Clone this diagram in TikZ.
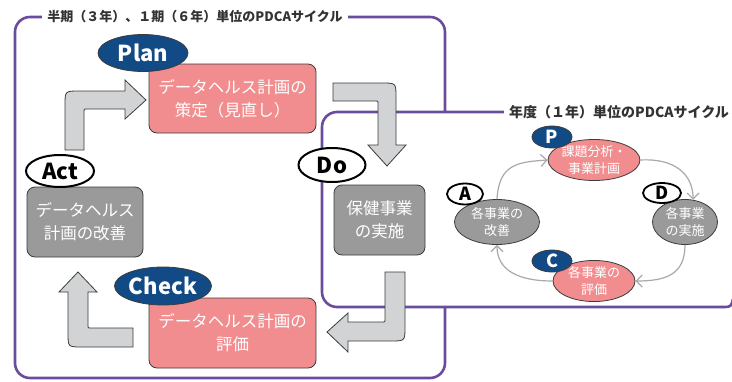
\documentclass[tikz,border=0pt]{standalone}
\usepackage{fontspec}
\setmainfont{Noto Sans CJK JP}
\usepackage{tikz}
\usetikzlibrary{shapes.geometric,arrows.meta}
\definecolor{frame}{HTML}{6A4C9C}
\definecolor{navy}{HTML}{124A86}
\definecolor{pinkfill}{HTML}{F28D8F}
\definecolor{boxgray}{HTML}{9A9A9A}
\definecolor{arrowfill}{HTML}{D1D3D4}
\definecolor{edge}{HTML}{3C3C3C}
\definecolor{cycgray}{HTML}{A7A9AC}
\definecolor{titletext}{HTML}{333333}
\tikzset{
  frameline/.style={draw=frame, line width=2.6pt, line cap=round},
  ttl/.style={fill=white, inner xsep=5pt, inner ysep=1pt, text=titletext, font=\bfseries\fontsize{13}{15}\selectfont},
  bigbox/.style={draw=edge, line width=0.8pt, rounded corners=8pt, text=white, align=center, inner sep=0pt, font=\fontsize{16.5}{23}\selectfont},
  pinkbox/.style={bigbox, fill=pinkfill},
  graybox/.style={bigbox, fill=boxgray},
  bluelab/.style={ellipse, fill=navy, draw=edge, line width=0.8pt, inner sep=0pt, text=white, font=\bfseries\fontsize{22}{22}\selectfont},
  whitelab/.style={ellipse, fill=white, draw=black, line width=2pt, inner sep=0pt, text=black, font=\bfseries\fontsize{22}{22}\selectfont},
  smalllab/.style={font=\bfseries\fontsize{18}{18}\selectfont, minimum width=40pt, minimum height=22pt},
  cycbox/.style={ellipse, draw=edge, line width=0.8pt, inner sep=0pt, text=white, align=center, font=\fontsize{13}{17}\selectfont},
  blockarrow/.style={fill=arrowfill, draw=edge, line width=0.8pt, line join=miter},
  cyc/.style={draw=cycgray, line width=1.2pt, -{Straight Barb[length=6pt,width=12pt]}},
}
\begin{document}
\begin{tikzpicture}[x=1pt,y=-1pt]
\useasboundingbox (0,0) rectangle (732,381);
% frames
\draw[frameline, rounded corners=15pt] (15,17) rectangle (445,378);
\node[ttl] (bigtitle) at (195,17) {半期（３年）、１期（６年）単位のPDCAサイクル};
\fill[white, rounded corners=15pt] (322,112) rectangle (760,307);
\draw[frameline, rounded corners=15pt] (506,112) -- (322,112) -- (322,307) -- (722,307);
\draw[frameline] (722,307) .. controls (731,307) .. (733,299);
\node[ttl, anchor=west, font=\bfseries\fontsize{14}{16}\selectfont] (yeartitle) at (504,112) {年度（１年）単位のPDCAサイクル};
% block arrows
\draw[blockarrow] (65,150) -- (65,105) .. controls (65,91) .. (79,91) -- (125,91) -- (125,80) -- (146,100) -- (125,119) -- (125,109) -- (86,109) .. controls (84,109) .. (84,111) -- (84,150) -- cycle;
\draw[blockarrow] (333,83) -- (382,83) .. controls (396,83) .. (396,97) -- (396,145) -- (406,145) -- (387,166) -- (368,145) -- (378,145) -- (378,103) .. controls (378,101) .. (376,101) -- (333,101) -- cycle;
\draw[blockarrow] (385,272) -- (405,272) -- (405,327) .. controls (405,341) .. (391,341) -- (348,341) -- (348,352) -- (327,332) -- (348,313) -- (348,322) -- (383,322) .. controls (385,322) .. (385,320) -- cycle;
\draw[blockarrow] (133,328) -- (90,328) .. controls (88,328) .. (88,326) -- (88,292) -- (97,292) -- (78,272) -- (59,292) -- (68,292) -- (68,333) .. controls (68,347) .. (82,347) -- (133,347) -- cycle;
% half-term cycle
\node[pinkbox, minimum width=167pt, minimum height=69pt] (plan) at (232.5,98.5) {データヘルス計画の\\策定（見直し）};
\node[graybox, minimum width=91pt, minimum height=70pt] (do) at (379.5,220) {保健事業\\の実施};
\node[pinkbox, minimum width=167pt, minimum height=70pt] (check) at (232.5,333) {データヘルス計画の\\評価};
\node[graybox, minimum width=116pt, minimum height=70pt] (act) at (85,222) {データヘルス\\計画の改善};
\node[bluelab, minimum width=90pt, minimum height=37pt] (planlab) at (143,53) {Plan};
\node[whitelab, minimum width=67pt, minimum height=34pt] (dolab) at (332,165) {Do};
\node[bluelab, minimum width=97pt, minimum height=38pt] (checklab) at (163,286) {Check};
\node[whitelab, minimum width=68pt, minimum height=32pt] (actlab) at (60,171) {Act};
% annual cycle
\node[cycbox, fill=pinkfill, minimum width=82pt, minimum height=35pt] (pbox) at (594,160) {課題分析・\\事業計画};
\node[cycbox, fill=boxgray, minimum width=65pt, minimum height=45pt] (dbox) at (685,222) {各事業\\の実施};
\node[cycbox, fill=pinkfill, minimum width=82pt, minimum height=37pt] (cbox) at (594,281) {各事業の\\評価};
\node[cycbox, fill=boxgray, minimum width=85pt, minimum height=45pt] (abox) at (497,222) {各事業の\\改善};
\node[bluelab, smalllab] (plab) at (552,137) {P};
\node[whitelab, smalllab, line width=1.8pt, minimum width=38pt, minimum height=20pt] (dlab) at (662,193) {D};
\node[bluelab, smalllab] (clab) at (552,261) {C};
\node[whitelab, smalllab, line width=1.8pt, minimum width=36pt, minimum height=21pt] (alab) at (465,194) {A};
\draw[cyc] (abox.north) .. controls +(2,-35) and +(-30,2) .. (pbox.west);
\draw[cyc] (pbox.east) .. controls +(35,-2) and +(0,-25) .. (dbox.70);
\draw[cyc] (dbox.south) .. controls +(0,30) and +(30,0) .. (cbox.east);
\draw[cyc] (cbox.west) .. controls +(-35,0) and +(0,25) .. (abox.south);
\end{tikzpicture}
\end{document}
